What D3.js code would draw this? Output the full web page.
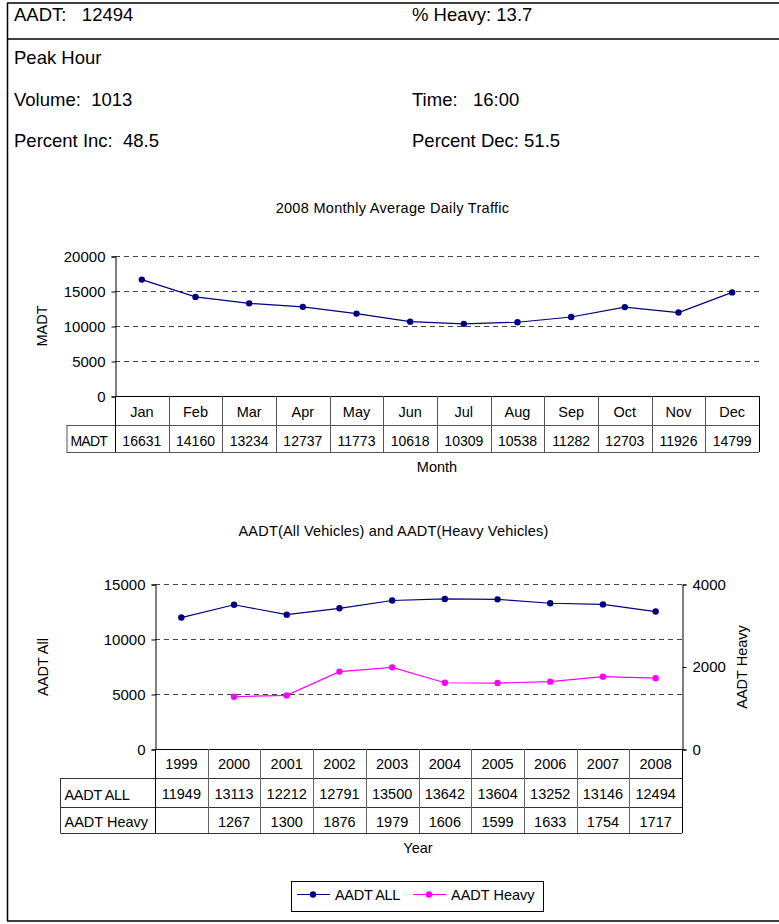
<!DOCTYPE html>
<html>
<head>
<meta charset="utf-8">
<script src="https://cdn.jsdelivr.net/npm/d3@7"></script>
<style>
  html, body { margin: 0; padding: 0; background: #fff; }
  svg { display: block; font-family: "Liberation Sans", Arial, sans-serif; }
</style>
</head>
<body>
<svg id="chart" width="779" height="924"></svg>
<script>
// ---------- data ----------
const headerLeft = ["AADT:   12494", "Peak Hour", "Volume:  1013", "Percent Inc:  48.5"];
const headerRight = ["% Heavy: 13.7", "", "Time:   16:00", "Percent Dec: 51.5"];

const months = ["Jan","Feb","Mar","Apr","May","Jun","Jul","Aug","Sep","Oct","Nov","Dec"];
const madt = [16631,14160,13234,12737,11773,10618,10309,10538,11282,12703,11926,14799];
const madtTicks = [0,5000,10000,15000,20000];

const years = ["1999","2000","2001","2002","2003","2004","2005","2006","2007","2008"];
const aadtAll = [11949,13113,12212,12791,13500,13642,13604,13252,13146,12494];
const aadtHeavy = [null,1267,1300,1876,1979,1606,1599,1633,1754,1717];
const allTicks = [0,5000,10000,15000];
const heavyTicks = [0,2000,4000];

const NAVY = "#000080", MAG = "#FF00FF";
const svg = d3.select("#chart");
const FONT = 14.5;

// ---------- frame ----------
svg.append("line").attr("x1",7.5).attr("x2",7.5).attr("y1",3).attr("y2",921).attr("stroke","#000").attr("stroke-width",1.5);
[3,39,921].forEach(y => svg.append("line").attr("x1",7).attr("x2",779).attr("y1",y).attr("y2",y).attr("stroke","#000").attr("stroke-width",1.5));

// ---------- header ----------
const hy = [21, 64, 106, 147];
headerLeft.forEach((t,i) => svg.append("text").attr("x",14).attr("y",hy[i]).attr("font-size",18.5).style("white-space","pre").text(t));
headerRight.forEach((t,i) => { if (t) svg.append("text").attr("x",412).attr("y",hy[i]).attr("font-size",18.5).style("white-space","pre").text(t); });

// ---------- Chart 1 ----------
{
  const x = d3.scaleBand().domain(months).range([115, 759]);
  const y = d3.scaleLinear().domain([0,20000]).range([396,256]);
  const g = svg.append("g");
  g.append("text").attr("x",392.5).attr("y",213).attr("text-anchor","middle").attr("font-size",14.5).attr("letter-spacing",0.3).text("2008 Monthly Average Daily Traffic");
  g.selectAll(".grid").data(madtTicks.filter(d=>d>0)).join("line")
    .attr("x1",115).attr("x2",759).attr("y1",d=>y(d)+0.5).attr("y2",d=>y(d)+0.5)
    .attr("stroke","#444").attr("stroke-dasharray","5,4");
  const ax = d3.axisLeft(y).tickValues(madtTicks).tickSize(4).tickPadding(6).tickFormat(d3.format("d"));
  const ag = g.append("g").attr("transform","translate(115.5,0.5)").call(ax);
  ag.select(".domain").attr("stroke","#000");
  ag.selectAll("text").attr("font-size",15).attr("font-family","Liberation Sans, Arial, sans-serif").attr("fill","#000");
  g.append("text").attr("transform","translate(47,326) rotate(-90)").attr("text-anchor","middle").attr("font-size",FONT).text("MADT");
  // table
  const tTop=396, tMid=425, tBot=452, lblL=66.5;
  g.append("line").attr("x1",115).attr("x2",759).attr("y1",tTop+0.5).attr("y2",tTop+0.5).attr("stroke","#000");
  g.append("line").attr("x1",lblL).attr("x2",759).attr("y1",tMid+0.5).attr("y2",tMid+0.5).attr("stroke","#555");
  g.append("line").attr("x1",lblL).attr("x2",759).attr("y1",tBot+0.5).attr("y2",tBot+0.5).attr("stroke","#555");
  g.append("line").attr("x1",lblL+0.5).attr("x2",lblL+0.5).attr("y1",tMid).attr("y2",tBot).attr("stroke","#555");
  const edges = months.map(m=>x(m)).concat([759]);
  g.selectAll(".vl").data(edges).join("line")
    .attr("x1",d=>Math.round(d)+0.5).attr("x2",d=>Math.round(d)+0.5).attr("y1",tTop).attr("y2",tBot)
    .attr("stroke",(d,i)=> (i===0||i===edges.length-1) ? "#000" : "#555");
  g.selectAll(".mh").data(months).join("text")
    .attr("x",d=>x(d)+x.bandwidth()/2).attr("y",tTop+15.5).attr("dy","0.35em")
    .attr("text-anchor","middle").attr("font-size",FONT).text(d=>d);
  g.selectAll(".mv").data(madt).join("text")
    .attr("x",(d,i)=>x(months[i])+x.bandwidth()/2).attr("y",tMid+16).attr("dy","0.35em")
    .attr("text-anchor","middle").attr("font-size",14).text(d=>d);
  g.append("text").attr("x",lblL+4).attr("y",tMid+16).attr("dy","0.35em").attr("font-size",14).attr("letter-spacing",-0.8).text("MADT");
  g.append("text").attr("x",437).attr("y",467).attr("dy","0.35em").attr("text-anchor","middle").attr("font-size",FONT).text("Month");
  const line = d3.line().x((d,i)=>x(months[i])+x.bandwidth()/2).y(d=>y(d));
  g.append("path").datum(madt).attr("d",line).attr("fill","none").attr("stroke",NAVY).attr("stroke-width",1.2);
  g.selectAll(".dot").data(madt).join("circle")
    .attr("cx",(d,i)=>x(months[i])+x.bandwidth()/2).attr("cy",d=>y(d)).attr("r",3.2).attr("fill",NAVY);
}

// ---------- Chart 2 ----------
{
  const x = d3.scaleBand().domain(years).range([155, 682]);
  const yL = d3.scaleLinear().domain([0,15000]).range([749,584]);
  const yR = d3.scaleLinear().domain([0,4000]).range([749,584]);
  const g = svg.append("g");
  g.append("text").attr("x",393.5).attr("y",536).attr("text-anchor","middle").attr("font-size",14.5).attr("letter-spacing",0.2).text("AADT(All Vehicles) and AADT(Heavy Vehicles)");
  g.selectAll(".grid").data(allTicks.filter(d=>d>0)).join("line")
    .attr("x1",155).attr("x2",682).attr("y1",d=>yL(d)+0.5).attr("y2",d=>yL(d)+0.5)
    .attr("stroke","#444").attr("stroke-dasharray","5,4");
  const axL = d3.axisLeft(yL).tickValues(allTicks).tickSize(4).tickPadding(6).tickFormat(d3.format("d"));
  const agL = g.append("g").attr("transform","translate(155.5,0.5)").call(axL);
  const axR = d3.axisRight(yR).tickValues(heavyTicks).tickSize(4).tickPadding(6).tickFormat(d3.format("d"));
  const agR = g.append("g").attr("transform","translate(682.5,0.5)").call(axR);
  [agL,agR].forEach(a => {
    a.select(".domain").attr("stroke","#000");
    a.selectAll("text").attr("font-size",15).attr("font-family","Liberation Sans, Arial, sans-serif").attr("fill","#000");
  });
  g.append("text").attr("transform","translate(48,667) rotate(-90)").attr("text-anchor","middle").attr("font-size",FONT).text("AADT All");
  g.append("text").attr("transform","translate(747,667) rotate(-90)").attr("text-anchor","middle").attr("font-size",FONT).text("AADT Heavy");
  // table
  const r0=749, r1=778, r2=807, r3=833, lblL=60.5;
  g.append("line").attr("x1",155).attr("x2",682).attr("y1",r0+0.5).attr("y2",r0+0.5).attr("stroke","#000");
  [r1,r2,r3].forEach(yy => g.append("line").attr("x1",lblL).attr("x2",682).attr("y1",yy+0.5).attr("y2",yy+0.5).attr("stroke","#333"));
  g.append("line").attr("x1",lblL).attr("x2",lblL).attr("y1",r1).attr("y2",r3).attr("stroke","#333");
  const edges = years.map(yv=>x(yv)).concat([682]);
  g.selectAll(".vl").data(edges).join("line")
    .attr("x1",d=>Math.round(d)+0.5).attr("x2",d=>Math.round(d)+0.5).attr("y1",r0).attr("y2",r3)
    .attr("stroke",(d,i)=> (i===0||i===edges.length-1) ? "#000" : "#666");
  const cx = yv => x(yv)+x.bandwidth()/2;
  g.selectAll(".yh").data(years).join("text")
    .attr("x",d=>cx(d)).attr("y",763.5).attr("dy","0.35em").attr("text-anchor","middle").attr("font-size",FONT).text(d=>d);
  g.selectAll(".va").data(aadtAll).join("text")
    .attr("x",(d,i)=>cx(years[i])).attr("y",794).attr("dy","0.35em").attr("text-anchor","middle").attr("font-size",FONT).text(d=>d);
  g.selectAll(".vh").data(aadtHeavy).join("text")
    .attr("x",(d,i)=>cx(years[i])).attr("y",821.5).attr("dy","0.35em").attr("text-anchor","middle").attr("font-size",FONT).text(d=>d==null?"":d);
  g.append("text").attr("x",64.5).attr("y",794.5).attr("dy","0.35em").attr("font-size",FONT).attr("letter-spacing",-0.3).text("AADT ALL");
  g.append("text").attr("x",64.5).attr("y",821.5).attr("dy","0.35em").attr("font-size",FONT).text("AADT Heavy");
  g.append("text").attr("x",418).attr("y",848).attr("dy","0.35em").attr("text-anchor","middle").attr("font-size",FONT).text("Year");
  const lineA = d3.line().x((d,i)=>cx(years[i])).y(d=>yL(d));
  g.append("path").datum(aadtAll).attr("d",lineA).attr("fill","none").attr("stroke",NAVY).attr("stroke-width",1.2);
  g.selectAll(".da").data(aadtAll).join("circle").attr("cx",(d,i)=>cx(years[i])).attr("cy",d=>yL(d)).attr("r",3.2).attr("fill",NAVY);
  const heavyPts = aadtHeavy.map((d,i)=>({y:years[i],v:d})).filter(p=>p.v!=null);
  const lineH = d3.line().x(p=>cx(p.y)).y(p=>yR(p.v));
  g.append("path").datum(heavyPts).attr("d",lineH).attr("fill","none").attr("stroke",MAG).attr("stroke-width",1.2);
  g.selectAll(".dh").data(heavyPts).join("circle").attr("cx",p=>cx(p.y)).attr("cy",p=>yR(p.v)).attr("r",3.2).attr("fill",MAG);

  // legend
  const lg = svg.append("g");
  lg.append("rect").attr("x",291.5).attr("y",881.5).attr("width",252).attr("height",30).attr("fill","#fff").attr("stroke","#000");
  const items = [{name:"AADT ALL",c:NAVY,x0:297},{name:"AADT Heavy",c:MAG,x0:413}];
  items.forEach(it => {
    lg.append("line").attr("x1",it.x0).attr("x2",it.x0+33).attr("y1",894.5).attr("y2",894.5).attr("stroke",it.c).attr("stroke-width",1.2);
    lg.append("circle").attr("cx",it.x0+16).attr("cy",894.5).attr("r",3.2).attr("fill",it.c);
    lg.append("text").attr("x",it.x0+38).attr("y",895).attr("dy","0.35em").attr("font-size",FONT).attr("letter-spacing",it.name==="AADT ALL"?-0.3:0).text(it.name);
  });
}
</script>
</body>
</html>
